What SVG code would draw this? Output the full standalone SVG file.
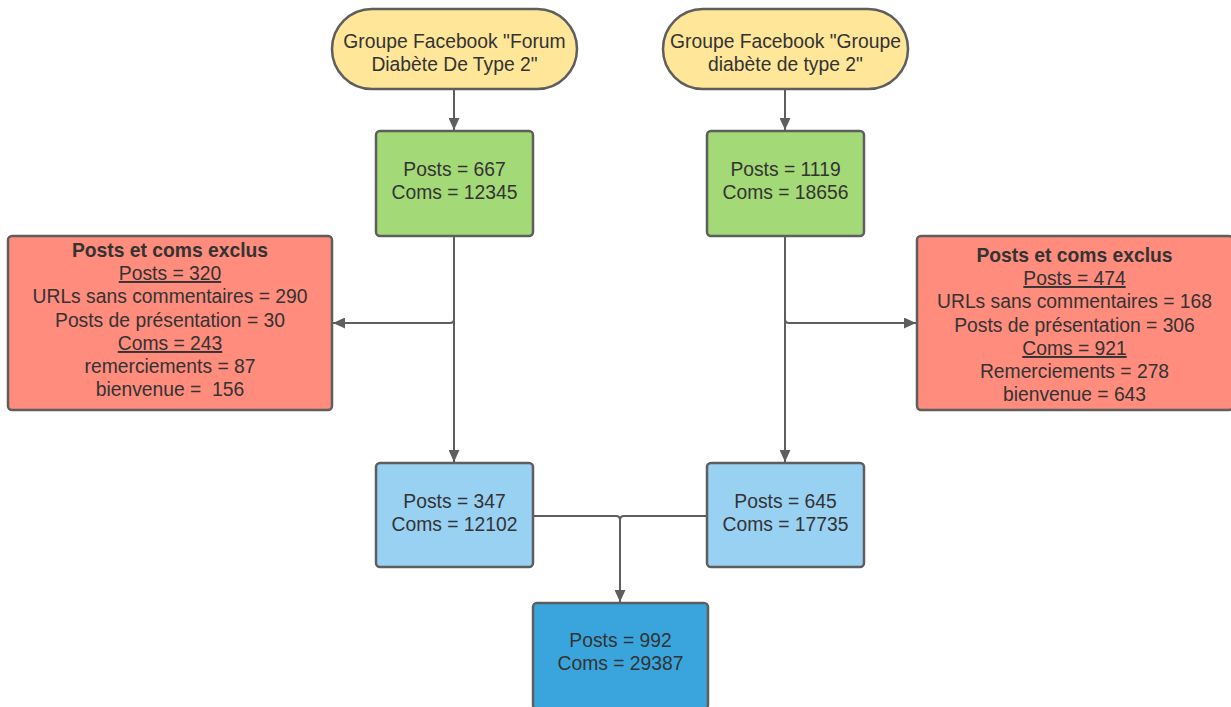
<svg xmlns="http://www.w3.org/2000/svg" width="1231" height="707" viewBox="0 0 1231 707">
<style>
.box{stroke:#5e5e5e;stroke-width:2.5}
.term{fill:#ffe699}
.green{fill:#a3d977}
.red{fill:#ff8c7d}
.lblue{fill:#99d1f3}
.dblue{fill:#3aa5dd}
text{font-family:"Liberation Sans",Arial,sans-serif;font-size:19.3px;fill:#333333;text-anchor:middle}
.b{font-weight:bold}
.u{text-decoration:underline}
.c{fill:none;stroke:#5e5e5e;stroke-width:2}
</style>
<defs>
<marker id="arr" markerUnits="userSpaceOnUse" markerWidth="13" markerHeight="11" refX="12" refY="5.5" orient="auto">
<path d="M0,0 L12,5.5 L0,11 Z" fill="#5e5e5e"/>
</marker>
</defs>
<rect width="1231" height="707" fill="#ffffff"/>
<g id="connectors">
<path class="c" d="M454 89 V130" marker-end="url(#arr)"/>
<path class="c" d="M785 89 V130" marker-end="url(#arr)"/>
<path class="c" d="M454 236 V462" marker-end="url(#arr)"/>
<path class="c" d="M454 236 V319 Q454 323 450 323 H333" marker-end="url(#arr)"/>
<path class="c" d="M785 236 V462" marker-end="url(#arr)"/>
<path class="c" d="M785 236 V319 Q785 323 789 323 H916" marker-end="url(#arr)"/>
<path class="c" d="M533 516 H616 Q620 516 620 520 V602" marker-end="url(#arr)"/>
<path class="c" d="M707 516 H624 Q620 516 620 520"/>
</g>
<g id="term1">
<rect class="box term" x="332" y="9" width="245" height="80" rx="40"/>
<text x="454.5" y="48">Groupe Facebook "Forum</text>
<text x="454.5" y="71">Diabète De Type 2"</text>
</g>
<g id="term2">
<rect class="box term" x="663" y="9" width="245" height="80" rx="40"/>
<text x="785.5" y="48">Groupe Facebook "Groupe</text>
<text x="785.5" y="71">diabète de type 2"</text>
</g>
<g id="green1">
<rect class="box green" x="376" y="131" width="157" height="105" rx="4"/>
<text x="454.5" y="176">Posts = 667</text>
<text x="454.5" y="199">Coms = 12345</text>
</g>
<g id="green2">
<rect class="box green" x="707" y="131" width="157" height="105" rx="4"/>
<text x="785.5" y="176">Posts = 1119</text>
<text x="785.5" y="199">Coms = 18656</text>
</g>
<g id="red1">
<rect class="box red" x="8" y="236" width="324" height="174" rx="4"/>
<text class="b" x="170" y="257">Posts et coms exclus</text>
<text class="u" x="170" y="280">Posts = 320</text>
<text x="170" y="303">URLs sans commentaires = 290</text>
<text x="170" y="327">Posts de présentation = 30</text>
<text class="u" x="170" y="350">Coms = 243</text>
<text x="170" y="373">remerciements = 87</text>
<text x="170" y="396" xml:space="preserve">bienvenue =  156</text>
</g>
<g id="red2">
<rect class="box red" x="917" y="236" width="316" height="174" rx="4"/>
<text class="b" x="1074.5" y="262">Posts et coms exclus</text>
<text class="u" x="1074.5" y="285">Posts = 474</text>
<text x="1074.5" y="308">URLs sans commentaires = 168</text>
<text x="1074.5" y="332">Posts de présentation = 306</text>
<text class="u" x="1074.5" y="355">Coms = 921</text>
<text x="1074.5" y="378">Remerciements = 278</text>
<text x="1074.5" y="401">bienvenue = 643</text>
</g>
<g id="blue1">
<rect class="box lblue" x="376" y="463" width="157" height="104" rx="4"/>
<text x="454.5" y="508">Posts = 347</text>
<text x="454.5" y="531">Coms = 12102</text>
</g>
<g id="blue2">
<rect class="box lblue" x="707" y="463" width="157" height="104" rx="4"/>
<text x="785.5" y="508">Posts = 645</text>
<text x="785.5" y="531">Coms = 17735</text>
</g>
<g id="total">
<rect class="box dblue" x="533" y="603" width="175" height="106" rx="4"/>
<text x="620.5" y="647">Posts = 992</text>
<text x="620.5" y="670">Coms = 29387</text>
</g>
</svg>
